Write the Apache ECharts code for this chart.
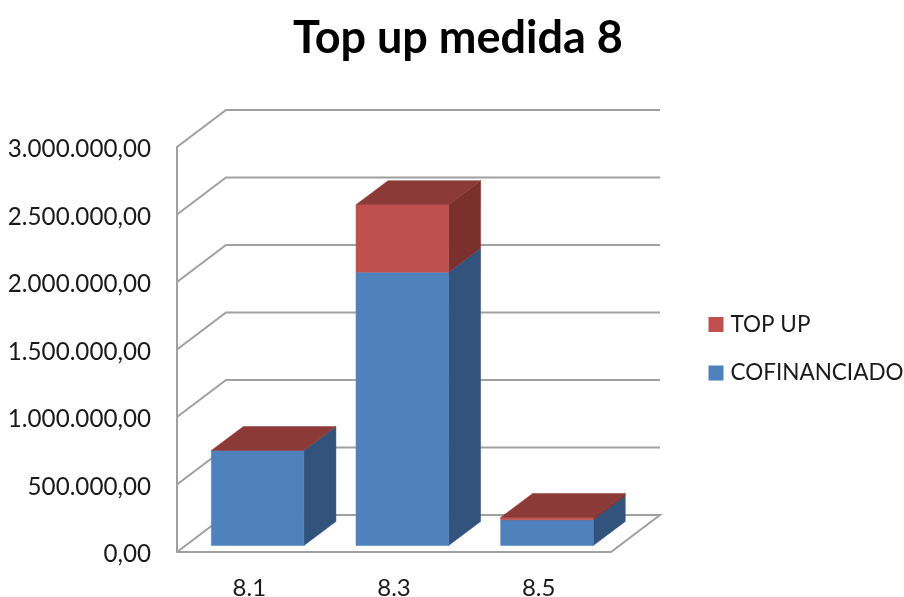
<!DOCTYPE html>
<html><head><meta charset="utf-8">
<style>html,body{margin:0;padding:0;background:#fff}#c{width:904px;height:597px}</style>
<script src="https://cdn.jsdelivr.net/npm/echarts@6/dist/echarts.min.js"></script>
</head><body><div id="c"></div>
<script>
const titleText = 'Top up medida 8';
const categories = ['8.1', '8.3', '8.5'];
const cofinanciado = [704000, 2025000, 190000];
const topUp = [0, 500000, 18000];
const yTicks = [0, 500000, 1000000, 1500000, 2000000, 2500000, 3000000];

const FONT = 'Lato';
const WALL = [49, -37], DEPTH = [32, -24], SHIFT = [8.3, -6.5], BAR = 92.6;
const GRAY = '#a0a0a0';

function fmt(v) {
  return '{t|' + String(Math.floor(v)).replace(/\B(?=(\d{3})+$)/g, '.') + ',00}';
}
function poly(points, fill) {
  return { type: 'polygon', shape: { points }, style: { fill, stroke: fill, lineWidth: 0.5 } };
}
function wallItem(params, api) {
  const v = api.value(1);
  const band = api.size([1, 0])[0];
  const p = api.coord([0, v]);
  const x0 = p[0] - band / 2, y = p[1];
  const x1 = x0 + band * categories.length;
  const pts = v === 0
    ? [[x0, y], [x1, y], [x1 + WALL[0], y + WALL[1]], [x0 + WALL[0], y + WALL[1]], [x0, y]]
    : [[x0, y], [x0 + WALL[0], y + WALL[1]], [x1 + WALL[0], y + WALL[1]]];
  return { type: 'polyline', shape: { points: pts }, style: { fill: 'none', stroke: GRAY, lineWidth: 2 } };
}
function box(front, side, cap) {
  return function (params, api) {
    const c = api.value(0), base = api.value(1), top = api.value(2);
    const pb = api.coord([c, base]), pt = api.coord([c, top]);
    const xl = pb[0] + SHIFT[0] - BAR / 2, xr = xl + BAR;
    const yb = pb[1] + SHIFT[1], yt = pt[1] + SHIFT[1];
    const dx = DEPTH[0], dy = DEPTH[1];
    const children = [];
    if (yb - yt > 0.01) {
      children.push(poly([[xr, yb], [xr + dx, yb + dy], [xr + dx, yt + dy], [xr, yt]], side));
      children.push(poly([[xl, yb], [xr, yb], [xr, yt], [xl, yt]], front));
    }
    if (cap) children.push(poly([[xl, yt], [xr, yt], [xr + dx, yt + dy], [xl + dx, yt + dy]], cap));
    return { type: 'group', children };
  };
}

const chart = echarts.init(document.getElementById('c'), null, { renderer: 'canvas' });
chart.setOption({
  animation: false,
  backgroundColor: '#fff',
  title: {
    text: titleText, left: 453, top: 11, textAlign: 'center',
    textStyle: { fontFamily: FONT, fontWeight: 'bold', fontSize: 45, color: '#000' }
  },
  grid: { left: 177, top: 147, width: 434, height: 405, containLabel: false, outerBoundsMode: 'none' },
  legend: {
    orient: 'vertical', left: 708.5, top: 313, padding: 0, itemWidth: 15, itemHeight: 15, itemGap: 25.5,
    icon: 'rect', data: ['TOP UP', 'COFINANCIADO'], selectedMode: false,
    textStyle: { fontFamily: FONT, fontSize: 22.5, color: '#1a1a1a', padding: [0, 0, 0, 2] }
  },
  xAxis: {
    type: 'category', data: categories,
    axisLine: { show: false }, axisTick: { show: false }, splitLine: { show: false },
    axisLabel: { fontFamily: FONT, fontSize: 24, color: '#1a1a1a', margin: 24 }
  },
  yAxis: {
    type: 'value', min: 0, max: 3000000, interval: 500000,
    axisLine: { show: true, lineStyle: { color: GRAY, width: 2 } },
    axisTick: { show: false }, splitLine: { show: false },
    axisLabel: {
      margin: 26, formatter: fmt,
      rich: { t: { fontFamily: FONT, fontSize: 24.2, color: '#1a1a1a', padding: [5, 0, 0, 0] } }
    }
  },
  series: [
    { name: 'wall', type: 'custom', z: 1, silent: true, renderItem: wallItem,
      data: yTicks.map(v => [0, v]), encode: { x: 0, y: 1 } },
    { name: 'COFINANCIADO', type: 'custom', z: 2, itemStyle: { color: '#4F81BD' },
      renderItem: box('#4F81BD', '#31537C', null),
      data: categories.map((c, i) => [i, 0, cofinanciado[i]]), encode: { x: 0, y: 2 } },
    { name: 'TOP UP', type: 'custom', z: 3, itemStyle: { color: '#C0504D' },
      renderItem: box('#C0504D', '#7C302E', '#8C3A38'),
      data: categories.map((c, i) => [i, cofinanciado[i], cofinanciado[i] + topUp[i]]), encode: { x: 0, y: 2 } }
  ]
});
</script></body></html>
